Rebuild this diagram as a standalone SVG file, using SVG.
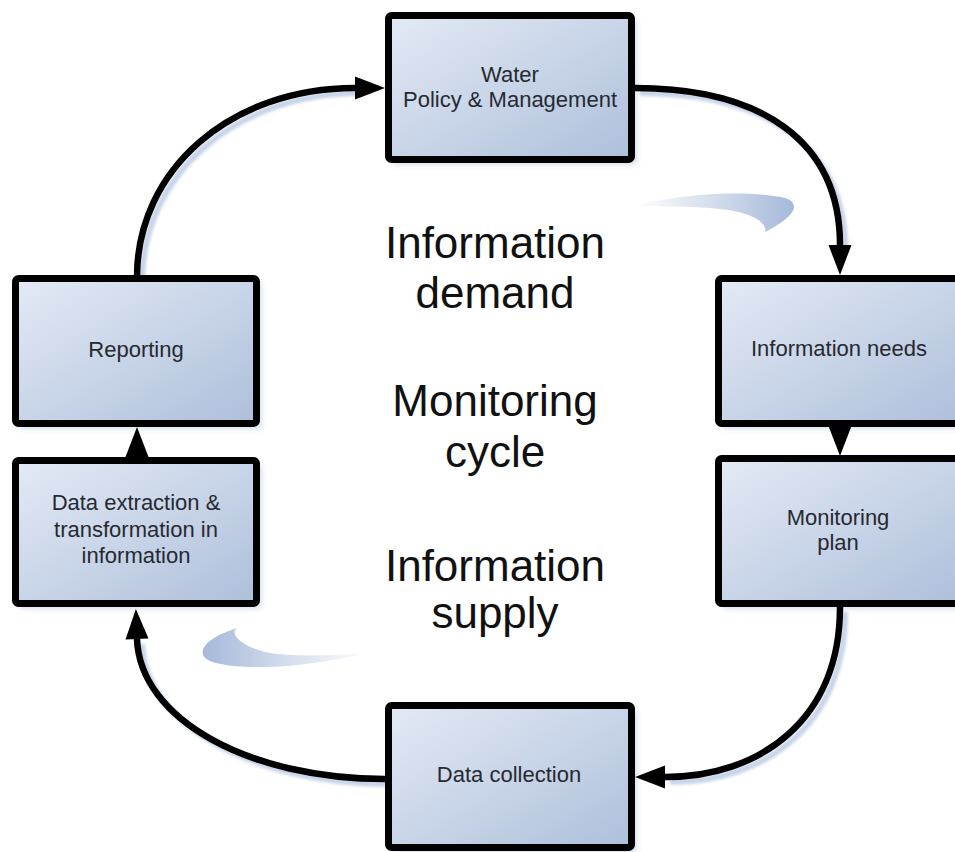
<svg xmlns="http://www.w3.org/2000/svg" width="955" height="852" viewBox="0 0 955 852">
<defs>
  <linearGradient id="boxFill" x1="0" y1="0" x2="1" y2="1">
    <stop offset="0" stop-color="#e3eaf5"/>
    <stop offset="1" stop-color="#aebfdb"/>
  </linearGradient>
  <linearGradient id="swooshA" x1="0" y1="0" x2="1" y2="0">
    <stop offset="0" stop-color="#ffffff"/>
    <stop offset="0.5" stop-color="#d3ddec"/>
    <stop offset="1" stop-color="#a6b9da"/>
  </linearGradient>
  <linearGradient id="swooshB" x1="0" y1="0" x2="1" y2="0">
    <stop offset="0" stop-color="#a6b9da"/>
    <stop offset="0.5" stop-color="#d3ddec"/>
    <stop offset="1" stop-color="#ffffff"/>
  </linearGradient>
  <filter id="soft" x="-20%" y="-20%" width="140%" height="140%">
    <feGaussianBlur stdDeviation="3"/>
  </filter>
  <filter id="softLine" x="-20%" y="-20%" width="140%" height="140%">
    <feGaussianBlur stdDeviation="1.5"/>
  </filter>
  <marker id="arrow" markerUnits="userSpaceOnUse" markerWidth="32" markerHeight="24" refX="0" refY="11.5" orient="auto" overflow="visible">
    <path d="M0,0 L30,11.5 L0,23 Z" fill="#000"/>
  </marker>
  <style>
    .box { fill: url(#boxFill); stroke: #000; stroke-width: 7; }
    .shadow { fill: #b7c6de; opacity: 0.7; filter: url(#soft); }
    .label { font-family: "Liberation Sans", Arial, sans-serif; font-size: 22px; fill: #262a30; text-anchor: middle; }
    .big { font-family: "Liberation Sans", Arial, sans-serif; font-size: 44px; fill: #111; text-anchor: middle; }
    .conn { fill: none; stroke: #000; stroke-width: 6.5; }
    .connShadow { fill: none; stroke: #c6d3e8; stroke-width: 6; filter: url(#softLine); }
  </style>
</defs>
<rect width="955" height="852" fill="#fff"/>

<g id="swooshes">
  <path d="M632,206 C670,196 740,188 785,198 C800,203 798,215 765,232 C768,222 750,212 720,209 C690,206 660,206 632,206 Z" fill="url(#swooshA)"/>
  <path d="M237,628 C230,633 238,645 265,652 C295,658 335,655 370,653 C335,660 295,668 255,667 C215,666 200,660 203,650 C206,640 222,633 237,628 Z" fill="url(#swooshB)"/>
</g>

<g id="connector-shadows" transform="translate(5,5)">
  <path class="connShadow" d="M137,277 C137,170 230,88 355,88"/>
  <path class="connShadow" d="M635,88 C760,88 840,140 840,245"/>
  <path class="connShadow" d="M840,607 C840,720 760,777 665,777"/>
  <path class="connShadow" d="M385,779 C250,779 140,720 137,639"/>
</g>

<g id="node-water">
  <rect class="shadow" x="393" y="20" width="243" height="144"/>
  <rect class="box" x="388.5" y="15.5" width="243" height="144" rx="3"/>
  <text class="label" x="510" y="82">Water</text>
  <text class="label" x="510" y="107">Policy &amp; Management</text>
</g>

<g id="node-info-needs">
  <rect class="shadow" x="723" y="283" width="243" height="145"/>
  <rect class="box" x="718.5" y="278.5" width="243" height="145" rx="3"/>
  <text class="label" x="839" y="356">Information needs</text>
</g>

<g id="node-monitoring-plan">
  <rect class="shadow" x="723" y="463" width="243" height="145"/>
  <rect class="box" x="718.5" y="458.5" width="243" height="145" rx="3"/>
  <text class="label" x="838" y="525">Monitoring</text>
  <text class="label" x="838" y="550">plan</text>
</g>

<g id="node-data-collection">
  <rect class="shadow" x="393" y="710" width="243" height="142"/>
  <rect class="box" x="388.5" y="705.5" width="243" height="142" rx="3"/>
  <text class="label" x="509" y="782">Data collection</text>
</g>

<g id="node-data-extraction">
  <rect class="shadow" x="20" y="465" width="241" height="143"/>
  <rect class="box" x="15.5" y="460.5" width="241" height="143" rx="3"/>
  <text class="label" x="136" y="510">Data extraction &amp;</text>
  <text class="label" x="136" y="537">transformation in</text>
  <text class="label" x="136" y="563">information</text>
</g>

<g id="node-reporting">
  <rect class="shadow" x="20" y="283" width="241" height="145"/>
  <rect class="box" x="15.5" y="278.5" width="241" height="145" rx="3"/>
  <text class="label" x="136" y="357">Reporting</text>
</g>

<g id="connectors">
  <path class="conn" d="M137,277 C137,170 230,88 355,88" marker-end="url(#arrow)"/>
  <path class="conn" d="M635,88 C760,88 840,140 840,245" marker-end="url(#arrow)"/>
  <path class="conn" d="M840,424 L840,426" marker-end="url(#arrow)"/>
  <path class="conn" d="M840,607 C840,720 760,777 665,777" marker-end="url(#arrow)"/>
  <path class="conn" d="M385,779 C250,779 140,720 137,639" marker-end="url(#arrow)"/>
  <path class="conn" d="M137,459 L137,457" marker-end="url(#arrow)"/>
</g>

<g id="center-text">
  <text class="big" x="495" y="258">Information</text>
  <text class="big" x="495" y="308">demand</text>
  <text class="big" x="495" y="416">Monitoring</text>
  <text class="big" x="495" y="467">cycle</text>
  <text class="big" x="495" y="581">Information</text>
  <text class="big" x="495" y="628">supply</text>
</g>
</svg>
